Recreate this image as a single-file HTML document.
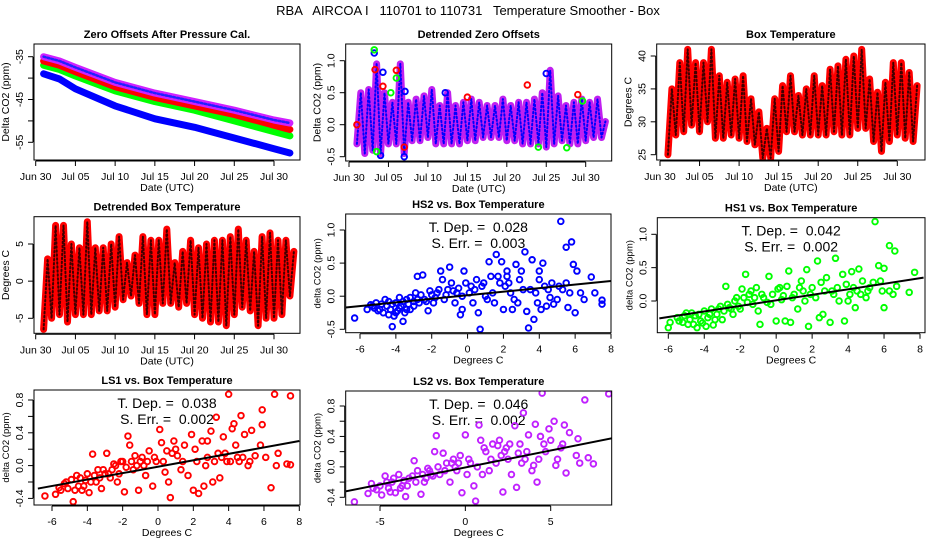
<!DOCTYPE html>
<html><head><meta charset="utf-8"><style>
html,body{margin:0;padding:0;background:#fff;}
svg{display:block;font-family:"Liberation Sans",sans-serif;}
text{white-space:pre;}
</style></head><body>
<svg id="chart" width="936" height="540" viewBox="0 0 936 540">
<rect width="936" height="540" fill="#fff"/>
<text x="468" y="15" text-anchor="middle" font-size="13" xml:space="preserve">RBA   AIRCOA I   110701 to 110731   Temperature Smoother - Box</text>
</svg>
<script>
// ---------- DATA ----------
const days = [1,3,5,10,15,20,25,30,32];
const zoBlue   = [-39,-40.2,-42.5,-46.5,-49.5,-51.5,-54,-56.5,-57.5];
const zoGreen  = [-37,-38,-39.5,-43,-45.5,-47.5,-50,-52.5,-53.5];
const zoRed    = [-36,-37,-38.5,-42,-44.5,-46.5,-48.5,-51,-52];
const zoPurple = [-35,-36,-37.5,-41,-43.5,-45.5,-47.5,-49.8,-50.5];

const dayIdx = [1,2,3,4,5,6,7,8,9,10,11,12,13,14,15,16,17,18,19,20,21,22,23,24,25,26,27,28,29,30,31,32];
const dzMin = [-0.3,-0.45,-0.4,-0.45,-0.3,-0.3,-0.45,-0.25,-0.25,-0.2,-0.3,-0.3,-0.3,-0.3,-0.25,-0.25,-0.2,-0.2,-0.2,-0.25,-0.25,-0.3,-0.3,-0.3,-0.35,-0.3,-0.25,-0.3,-0.3,-0.25,-0.2,-0.2];
const dzMax = [0.5,0.55,0.95,0.5,0.35,0.95,0.35,0.4,0.45,0.55,0.3,0.5,0.3,0.35,0.4,0.35,0.3,0.3,0.4,0.3,0.35,0.35,0.4,0.5,0.85,0.45,0.3,0.35,0.4,0.35,0.4,0.05];
const dzOutDay = [3.2,4.3,7.1,12.2,4,7,25,3.2,6,5.3,24,27.6,29.6,3.5,3.3,6,4.3,22.6,29,15,7,1];
const dzOutVal = [1.12,0.82,0.52,0.5,-0.48,-0.5,0.8,1.17,0.73,0.5,-0.35,-0.36,0.37,-0.42,0.86,0.85,0.6,0.62,0.47,0.43,-0.35,0];
const dzOutCol = ["#0000ff","#0000ff","#0000ff","#0000ff","#0000ff","#0000ff","#0000ff","#00ff00","#00ff00","#00ff00","#00ff00","#00ff00","#00ff00","#00ff00","#ff0000","#ff0000","#ff0000","#ff0000","#ff0000","#ff0000","#ff0000","#ff0000"];
const btMin = [25,28,28.5,29.5,28.5,30,27.5,27.5,28,27.5,27,26.5,24.5,24.5,25.5,28.5,28.5,28,28,28,28,28.5,28,28,29,29,27,25.5,27,28,27.5,27];
const btMax = [35,39,41,39,39,41,37,36,36.5,37,33.5,31.5,29,33.5,35.5,37,34,35,37,35.5,38,38.5,39.5,40,41,36.5,34.5,36,39,39,37.5,35.5];
const dbMin = [-6.5,-5,-4.5,-5.5,-4.5,-4.5,-4.5,-4,-4,-3.5,-2.5,-2,-3,-4.5,-4.5,-3,-3,-3.5,-3,-4.5,-5,-5.5,-5.5,-6,-4.5,-3.5,-4,-6,-5,-5,-4.5,-2];
const dbMax = [3,7.5,7.5,5,4.5,8,4.5,4.5,5,6,2.5,3.5,6,5.5,5.5,7,2.5,4,5.5,4.5,5,5.5,5.5,6,7,5.5,4,6,6.5,5.5,5.5,4];

const hs2Pts = [[-6.3,-0.33],[-5.6,-0.2],[-5.4,-0.13],[-5.2,-0.18],[-5,-0.22],[-4.8,-0.12],[-4.7,-0.25],[-4.5,-0.15],[-4.4,-0.08],[-4.3,-0.2],[-4.2,-0.46],[-4.1,-0.3],[-4,-0.1],[-3.9,-0.22],[-3.8,-0.02],[-3.7,-0.15],[-3.6,-0.38],[-3.5,-0.25],[-3.4,-0.05],[-3.3,-0.12],[-3.2,-0.2],[-3,-0.08],[-2.9,0.05],[-2.8,0.3],[-2.7,-0.1],[-2.5,0.32],[-2.4,-0.05],[-2.2,-0.22],[-2,0.02],[-1.9,-0.1],[-1.7,0.05],[-1.5,0.38],[-1.4,0.25],[-1.3,-0.05],[-1.1,0.1],[-1,0.44],[-0.9,0.2],[-0.7,-0.1],[-0.5,0.12],[-0.4,-0.28],[-0.3,-0.2],[-0.2,0.38],[-0.1,0.2],[0.1,0.05],[0.3,-0.1],[0.5,0.25],[0.6,-0.25],[0.7,-0.5],[0.8,0.15],[1,0.0],[1.2,0.52],[1.3,0.3],[1.5,-0.1],[1.6,0.63],[1.8,0.2],[1.9,0.52],[2,-0.2],[2.2,0.38],[2.4,0.05],[2.5,-0.2],[2.7,0.48],[2.9,0.25],[3,0.38],[3.2,0.67],[3.3,-0.23],[3.4,-0.48],[3.6,0.55],[3.7,-0.35],[3.8,0.05],[4,0.38],[4.2,0.5],[4.4,-0.15],[4.5,0.1],[4.7,0.2],[5,-0.05],[5.2,1.13],[5.3,0.1],[5.5,0.74],[5.6,-0.17],[5.8,0.82],[5.9,0.48],[6.1,0.38],[6,-0.25],[6.3,0.05],[6.5,-0.05],[6.9,0.29],[7.1,0.05],[7.5,-0.12],[7.5,-0.06],[4.8,-0.12],[2.3,0.2],[1.1,-0.05],[0.2,0.15],[-0.6,0.05],[3.5,0.1],[4.1,-0.2],[5.5,0.2],[2.8,-0.1],
 [-5.3,-0.15],[-5.1,-0.1],[-4.9,-0.2],[-4.6,-0.05],[-4.4,-0.28],[-4.2,-0.12],[-4,-0.25],[-3.8,-0.18],[-3.6,-0.08],[-3.4,-0.2],[-3.2,-0.02],[-3,-0.15],[-2.8,-0.05],[-2.6,0.02],[-2.3,-0.08],[-2.1,0.08],[-1.8,-0.02],[-1.6,0.1],[-1.2,0.02],[-0.8,0.08],[-0.3,0.0],[0.4,0.1],[0.9,0.2],[1.4,0.05],[1.7,0.3],[2.1,0.15],[2.6,-0.05],[3.1,0.1],[3.9,-0.1],[4.3,0.15],[4.6,-0.02],[5.1,0.15],[5.7,0.05],[2.2,0.3],[4,0.25]];
const hs1Pts = [[-6,-0.4],[-5.9,-0.32],[-5.5,-0.25],[-5.2,-0.32],[-5,-0.18],[-4.8,-0.28],[-4.6,-0.35],[-4.5,-0.22],[-4.4,-0.4],[-4.2,-0.3],[-4,-0.15],[-3.9,-0.38],[-3.8,-0.25],[-3.6,-0.12],[-3.5,-0.36],[-3.3,-0.2],[-3.1,-0.08],[-3,-0.28],[-2.8,0.22],[-2.6,-0.1],[-2.4,-0.2],[-2.2,0.05],[-2,-0.12],[-1.9,0.18],[-1.7,0.4],[-1.5,0.1],[-1.3,-0.05],[-1.1,0.2],[-1,-0.15],[-0.9,-0.35],[-0.7,0.05],[-0.4,0.37],[-0.2,0.1],[0,-0.3],[0.1,0.18],[0.3,0.02],[0.5,-0.3],[0.6,0.22],[0.7,0.45],[0.8,-0.32],[1,0.1],[1.2,-0.12],[1.4,0.3],[1.6,0.0],[1.7,0.47],[1.8,-0.38],[2,0.2],[2.2,0.05],[2.3,0.6],[2.4,-0.25],[2.6,-0.2],[2.8,0.35],[3,-0.32],[3.1,0.15],[3.3,0.64],[3.5,0.0],[3.7,0.4],[3.8,-0.3],[3.9,0.25],[4.1,0.1],[4.2,0.44],[4.4,-0.1],[4.6,0.48],[4.8,0.3],[5,0.05],[5.2,0.2],[5.5,1.19],[5.7,0.53],[5.9,0.15],[6,0.49],[6,-0.1],[6.3,0.83],[6.3,0.15],[6.6,0.75],[6.7,0.22],[7.4,0.13],[7.7,0.43],[4.5,0.15],[3.2,0.1],[1.5,0.15],[0.4,0.08],[-0.5,-0.02],[5.4,0.28],[2.5,0.28],
 [-5.4,-0.3],[-5.1,-0.22],[-4.9,-0.35],[-4.7,-0.18],[-4.3,-0.2],[-4.1,-0.33],[-3.7,-0.2],[-3.4,-0.28],[-3.2,-0.12],[-2.9,-0.15],[-2.7,-0.05],[-2.5,-0.12],[-2.3,0.0],[-2.1,-0.08],[-1.8,0.05],[-1.6,-0.02],[-1.4,0.15],[-1.2,0.05],[-0.8,0.1],[-0.3,-0.05],[0.2,0.2],[0.9,0.05],[1.3,0.2],[1.9,0.1],[2.7,0.15],[3.4,0.2],[4,0.0],[4.3,0.2],[4.7,0.1],[5.1,0.15],[5.8,0.3],[6.5,0.1]];
const ls1Pts = [[-6.4,-0.37],[-5.8,-0.35],[-5.6,-0.27],[-5.5,-0.3],[-5.3,-0.22],[-5.1,-0.28],[-4.9,-0.17],[-4.8,-0.44],[-4.6,-0.12],[-4.5,-0.25],[-4.3,-0.3],[-4.1,-0.18],[-4,-0.1],[-3.9,-0.33],[-3.7,0.14],[-3.5,-0.2],[-3.4,-0.05],[-3.2,-0.28],[-3,-0.1],[-2.9,0.15],[-2.7,-0.15],[-2.5,0.02],[-2.3,-0.2],[-2.1,0.05],[-1.9,-0.32],[-1.7,0.36],[-1.6,0.25],[-1.4,-0.05],[-1.3,0.12],[-1.1,-0.3],[-0.9,0.1],[-0.7,-0.12],[-0.5,0.18],[-0.3,-0.25],[-0.1,0.05],[0.1,0.44],[0.2,0.28],[0.4,-0.08],[0.5,0.18],[0.6,-0.2],[0.7,-0.39],[0.9,0.3],[1.1,0.12],[1.3,-0.05],[1.5,0.25],[1.7,-0.12],[1.9,0.38],[2,-0.3],[2.2,0.05],[2.3,-0.34],[2.5,0.3],[2.6,-0.25],[2.8,0.1],[3,0.42],[3.1,-0.2],[3.3,0.59],[3.4,0.15],[3.5,-0.15],[3.7,0.35],[3.9,0.05],[4,0.87],[4.2,0.45],[4.3,0.51],[4.5,0.1],[4.7,0.61],[4.9,0.38],[5.1,0.0],[5.3,0.43],[5.5,0.12],[5.8,0.25],[5.9,0.68],[5.9,0.5],[6.1,0.1],[6.4,-0.27],[6.6,0.87],[6.7,0.0],[6.8,0.15],[7.3,0.02],[7.5,0.85],[7.5,0.01],[1,0.2],[2.8,0.3],[-0.8,0.0],[4.6,0.05],[3.6,0.1],
 [-5.2,-0.2],[-4.7,-0.3],[-4.4,-0.15],[-4.2,-0.25],[-3.8,-0.2],[-3.6,-0.12],[-3.3,-0.15],[-3.1,-0.05],[-2.8,-0.1],[-2.6,-0.05],[-2.4,0.0],[-2.2,-0.1],[-2,0.05],[-1.8,-0.02],[-1.5,0.05],[-1.2,0.0],[-1,0.05],[-0.6,0.05],[-0.2,0.1],[0.3,0.05],[0.8,0.15],[1.4,0.05],[2.1,0.2],[2.7,0.0],[3.2,0.05],[3.8,0.15],[4.1,0.05],[4.4,0.25],[4.8,0.1],[5.2,0.05]];
const ls2Pts = [[-6.5,-0.46],[-5.7,-0.35],[-5.5,-0.22],[-5.2,-0.3],[-4.9,-0.37],[-4.7,-0.12],[-4.5,-0.28],[-4.3,-0.2],[-4.1,-0.34],[-3.9,-0.1],[-3.7,-0.25],[-3.5,-0.39],[-3.3,-0.15],[-3,0.08],[-2.8,-0.05],[-2.6,-0.36],[-2.4,-0.2],[-2.2,-0.02],[-2,-0.1],[-1.8,0.2],[-1.7,0.41],[-1.5,-0.1],[-1.3,0.18],[-1.1,0.05],[-0.9,-0.2],[-0.7,0.1],[-0.5,-0.05],[-0.3,0.15],[-0.2,-0.34],[0,0.42],[0.1,-0.1],[0.3,0.05],[0.5,-0.25],[0.6,-0.45],[0.8,0.55],[0.9,0.35],[1,-0.1],[1.2,0.2],[1.4,-0.05],[1.6,0.3],[1.8,0.05],[2,0.35],[2.2,-0.33],[2.3,0.2],[2.5,0.1],[2.7,-0.1],[2.9,0.54],[3,-0.27],[3.2,0.3],[3.4,0.71],[3.5,0.1],[3.7,0.42],[3.9,-0.05],[4.1,0.56],[4.2,-0.2],[4.4,0.4],[4.5,0.97],[4.7,0.2],[4.9,0.5],[5,0.35],[5.2,0.6],[5.4,0.1],[5.6,0.25],[5.8,0.55],[5.9,-0.08],[6.1,0.45],[6.5,0.15],[6.6,0.37],[6.7,0.05],[7,0.88],[7.2,0.12],[7.5,0.04],[8.4,0.96],[1.5,0.1],[3.1,0.18],[-0.4,0.05],[4.3,0.1],[2.4,0.25],
 [-5.4,-0.28],[-5,-0.25],[-4.6,-0.2],[-4.4,-0.33],[-4.2,-0.15],[-3.8,-0.28],[-3.6,-0.18],[-3.4,-0.25],[-3.1,-0.12],[-2.9,-0.2],[-2.5,-0.1],[-2.3,-0.15],[-2.1,-0.05],[-1.9,-0.12],[-1.6,0.0],[-1.2,-0.05],[-0.8,0.05],[-0.6,0.0],[0.2,0.1],[0.7,0.0],[1.1,0.25],[1.9,0.28],[2.1,0.15],[2.6,0.3],[3.3,0.05],[3.6,0.2],[4,0.02],[4.6,0.3],[5.3,0.02],[5.7,0.3]];
const hs2Fit = [-6.8,-0.17,8,0.23];
const hs1Fit = [-6.5,-0.26,8.2,0.35];
const ls1Fit = [-6.8,-0.28,8,0.30];
const ls2Fit = [-7.2,-0.33,8.9,0.39];
const dateTicks = [0,5,10,15,20,25,30];
const dateLabels = ["Jun 30","Jul 05","Jul 10","Jul 15","Jul 20","Jul 25","Jul 30"];

// ---------- DRAWING ----------
const NS = "http://www.w3.org/2000/svg";
const svg = document.getElementById("chart");
function mk(tag, parent){ const e=document.createElementNS(NS,tag); (parent||svg).appendChild(e); return e; }
function lin(v0,p0,v1,p1){ return v => p0 + (v-v0)*(p1-p0)/(v1-v0); }

function panel(c){
  const g = mk("g");
  
  
  const [l,t,r,b] = c.box;
  const ti=mk("text",g); ti.setAttribute("x",(l+r)/2); ti.setAttribute("y",t-6); ti.setAttribute("text-anchor","middle"); ti.setAttribute("font-size","11"); ti.setAttribute("font-weight","bold");
  ti.textContent=c.title;
  
  
  if(c.ann){
    c.ann.forEach((s,i)=>{
      const a=mk("text",g); a.setAttribute("x",(l+r)/2); a.setAttribute("y",t+18+i*16); a.setAttribute("text-anchor","middle"); a.setAttribute("font-size","14");
      a.textContent=s;
      
      
    });
  }
  const clip = mk("clipPath", g); clip.setAttribute("id","clip-"+c.name);
  const cr = mk("rect", clip); cr.setAttribute("x",l); cr.setAttribute("y",t); cr.setAttribute("width",r-l); cr.setAttribute("height",b-t);
  const plot = mk("g", g); plot.setAttribute("clip-path","url(#clip-"+c.name+")");
  
  
  c.draw(plot);
  const box = mk("rect", g);
  box.setAttribute("x",l); box.setAttribute("y",t); box.setAttribute("width",r-l); box.setAttribute("height",b-t);
  box.setAttribute("fill","none"); box.setAttribute("stroke","#000"); box.setAttribute("stroke-width","1");
  
  
  const xa = mk("g", g);
  
  
  const xt = c.xticks.map(c.xs);
  const al = mk("line", xa); al.setAttribute("x1",xt[0]); al.setAttribute("x2",xt[xt.length-1]); al.setAttribute("y1",b+1); al.setAttribute("y2",b+1); al.setAttribute("stroke","#000");
  c.xticks.forEach((v,i)=>{
    const x=c.xs(v);
    const tk=mk("line",xa); tk.setAttribute("x1",x); tk.setAttribute("x2",x); tk.setAttribute("y1",b+1); tk.setAttribute("y2",b+6); tk.setAttribute("stroke","#000");
    const tx=mk("text",xa); tx.setAttribute("x",x); tx.setAttribute("y",b+20); tx.setAttribute("text-anchor","middle"); tx.setAttribute("font-size","10.5");
    tx.textContent=c.xlabels[i];
    
    
  });
  const xtl=mk("text",g); xtl.setAttribute("x",(l+r)/2); xtl.setAttribute("y",b+31); xtl.setAttribute("text-anchor","middle"); xtl.setAttribute("font-size","10.5");
  xtl.textContent=c.xtitle;
  
  
  const ya = mk("g", g);
  
  
  const yt = c.yticks.map(c.ys);
  const yl = mk("line", ya); yl.setAttribute("x1",l-1); yl.setAttribute("x2",l-1); yl.setAttribute("y1",yt[0]); yl.setAttribute("y2",yt[yt.length-1]); yl.setAttribute("stroke","#000");
  c.yticks.forEach((v,i)=>{
    const y=c.ys(v);
    const tk=mk("line",ya); tk.setAttribute("x1",l-1); tk.setAttribute("x2",l-6); tk.setAttribute("y1",y); tk.setAttribute("y2",y); tk.setAttribute("stroke","#000");
    if(c.ylabels[i]!==""){
      const tx=mk("text",ya); const lx=l-11;
      tx.setAttribute("x",lx); tx.setAttribute("y",y); tx.setAttribute("text-anchor","middle"); tx.setAttribute("font-size","10.5");
      tx.setAttribute("transform","rotate(-90 "+lx+" "+y+")");
      tx.textContent=c.ylabels[i];
      
      
    }
  });
  const ytl=mk("text",g); const yx=l-25, yy=(t+b)/2;
  ytl.setAttribute("x",yx); ytl.setAttribute("y",yy); ytl.setAttribute("text-anchor","middle"); ytl.setAttribute("font-size",c.ytfs||"10.5");
  ytl.setAttribute("transform","rotate(-90 "+yx+" "+yy+")");
  ytl.textContent=c.ytitle;
  
  
}

function thickLine(p, xs, ys, xv, yv, col, w, name){
  const pts = xv.map((x,i)=>xs(x).toFixed(1)+","+ys(yv[i]).toFixed(1)).join(" ");
  const pl = mk("polyline", p); pl.setAttribute("points",pts); pl.setAttribute("fill","none"); pl.setAttribute("stroke",col); pl.setAttribute("stroke-width",w); pl.setAttribute("stroke-linejoin","round"); pl.setAttribute("stroke-linecap","round");
  
  
  return pl;
}
function zigzag(p, xs, ys, dmin, dmax, col, col2, name){
  const xv=[], yv=[];
  dayIdx.forEach((d,i)=>{ xv.push(d); yv.push(dmin[i]); xv.push(d+0.5); yv.push(dmax[i]); });
  thickLine(p, xs, ys, xv, yv, col, 7, name);
  const o = thickLine(p, xs, ys, xv, yv, col2, 2, name+'-overlay');
  o.setAttribute("stroke-dasharray","1.5 2.5");
}
function scatter(p, xs, ys, pts, col, fit, name){
  pts.forEach(pt=>{
    const c=mk("circle",p); c.setAttribute("cx",xs(pt[0])); c.setAttribute("cy",ys(pt[1])); c.setAttribute("r","2.8");
    c.setAttribute("fill","none"); c.setAttribute("stroke",col); c.setAttribute("stroke-width","1.9");
    
    
  });
  const ln=mk("line",p); ln.setAttribute("x1",xs(fit[0])); ln.setAttribute("y1",ys(fit[1])); ln.setAttribute("x2",xs(fit[2])); ln.setAttribute("y2",ys(fit[3]));
  ln.setAttribute("stroke","#000"); ln.setAttribute("stroke-width","2");
  
  
}

{ const xs=lin(0,35.7,30,274), ys=lin(-35,56.7,-55,142.3);
  panel({name:"zero-offsets-panel", box:[34,44,300,160], xs, ys, xticks:dateTicks, xlabels:dateLabels,
    yticks:[-35,-40,-45,-50,-55], ylabels:["-35","","-45","","-55"], title:"Zero Offsets After Pressure Cal.", xtitle:"Date (UTC)", ytitle:"Delta CO2 (ppm)",
    draw:p=>{ thickLine(p,xs,ys,days,zoBlue,"#0000ff",7,"series-hs2"); thickLine(p,xs,ys,days,zoGreen,"#00ff00",7,"series-hs1");
      thickLine(p,xs,ys,days,zoRed,"#ff0000",7,"series-ls1"); thickLine(p,xs,ys,days,zoPurple,"#d020ff",7,"series-ls2");
      const o=thickLine(p,xs,ys,days,zoPurple,"#2020ff",2.5,"series-ls2-overlay"); o.setAttribute("stroke-dasharray","2 2"); }});
}
{ const xs=lin(0,349,30,585.7), ys=lin(1,60.7,-0.5,156.7);
  panel({name:"detrended-zero-offsets-panel", box:[345.7,44,611.7,161], xs, ys, xticks:dateTicks, xlabels:dateLabels,
    yticks:[-0.5,0,0.5,1.0], ylabels:["-0.5","0.0","0.5","1.0"], title:"Detrended Zero Offsets", xtitle:"Date (UTC)", ytitle:"Delta CO2 (ppm)",
    draw:p=>{ zigzag(p,xs,ys,dzMin,dzMax,"#c020f0","#0000ff","detrended-band");
      dzOutDay.forEach((d,i)=>{ const c=mk("circle",p); c.setAttribute("cx",xs(d)); c.setAttribute("cy",ys(dzOutVal[i])); c.setAttribute("r","2.8"); c.setAttribute("fill","none"); c.setAttribute("stroke",dzOutCol[i]); c.setAttribute("stroke-width","1.9");
        
         }); }});
}
{ const xs=lin(0,660,30,897.3), ys=lin(40,56,25,154.7);
  panel({name:"box-temperature-panel", box:[656.7,44,925,160], xs, ys, xticks:dateTicks, xlabels:dateLabels,
    yticks:[25,30,35,40], ylabels:["25","30","35","40"], title:"Box Temperature", xtitle:"Date (UTC)", ytitle:"Degrees C",
    draw:p=>zigzag(p,xs,ys,btMin,btMax,"#ff0000","#400000","box-temp-series")});
}
{ const xs=lin(0,35.7,30,274), ys=lin(5,244,-5,318.3);
  panel({name:"detrended-box-temperature-panel", box:[34,216.7,300,333.3], xs, ys, xticks:dateTicks, xlabels:dateLabels,
    yticks:[-5,0,5], ylabels:["-5","0","5"], title:"Detrended Box Temperature", xtitle:"Date (UTC)", ytitle:"Degrees C",
    draw:p=>zigzag(p,xs,ys,dbMin,dbMax,"#ff0000","#400000","detrended-temp-series")});
}
{ const xs=lin(-6,360,8,611), ys=lin(1,230,-0.5,329.3);
  panel({name:"hs2-scatter-panel", box:[345.7,214,611,332.7], xs, ys, xticks:[-6,-4,-2,0,2,4,6,8], xlabels:["-6","-4","-2","0","2","4","6","8"],
    yticks:[-0.5,0,0.5,1.0], ylabels:["-0.5","0.0","0.5","1.0"], title:"HS2 vs. Box Temperature", xtitle:"Degrees C", ytitle:"delta CO2 (ppm)", ytfs:"9.5",
    ann:["T. Dep. =  0.028","S. Err. =  0.003"],
    draw:p=>scatter(p,xs,ys,hs2Pts,"#0000ff",hs2Fit,"hs2")});
}
{ const xs=lin(-6,668.3,8,920), ys=lin(1,234.3,0,301);
  panel({name:"hs1-scatter-panel", box:[657.3,217.7,925,332.7], xs, ys, xticks:[-6,-4,-2,0,2,4,6,8], xlabels:["-6","-4","-2","0","2","4","6","8"],
    yticks:[0,0.5,1.0], ylabels:["0.0","0.5","1.0"], title:"HS1 vs. Box Temperature", xtitle:"Degrees C", ytitle:"delta CO2 (ppm)", ytfs:"9.5",
    ann:["T. Dep. =  0.042","S. Err. =  0.002"],
    draw:p=>scatter(p,xs,ys,hs1Pts,"#00ff00",hs1Fit,"hs1")});
}
{ const xs=lin(-6,52,8,299.3), ys=lin(0.8,400,-0.4,498.4);
  panel({name:"ls1-scatter-panel", box:[34,390,300,505], xs, ys, xticks:[-6,-4,-2,0,2,4,6,8], xlabels:["-6","-4","-2","0","2","4","6","8"],
    yticks:[-0.4,-0.2,0,0.2,0.4,0.6,0.8], ylabels:["-0.4","","0.0","","0.4","","0.8"], title:"LS1 vs. Box Temperature", xtitle:"Degrees C", ytitle:"delta CO2 (ppm)", ytfs:"9.5",
    ann:["T. Dep. =  0.038","S. Err. =  0.002"],
    draw:p=>scatter(p,xs,ys,ls1Pts,"#ff0000",ls1Fit,"ls1")});
}
{ const xs=lin(-5,380,5,550.7), ys=lin(0.8,406,-0.4,497.3);
  panel({name:"ls2-scatter-panel", box:[345.7,391,611.7,505], xs, ys, xticks:[-5,0,5], xlabels:["-5","0","5"],
    yticks:[-0.4,-0.2,0,0.2,0.4,0.6,0.8], ylabels:["-0.4","","0.0","","0.4","","0.8"], title:"LS2 vs. Box Temperature", xtitle:"Degrees C", ytitle:"delta CO2 (ppm)", ytfs:"9.5",
    ann:["T. Dep. =  0.046","S. Err. =  0.002"],
    draw:p=>scatter(p,xs,ys,ls2Pts,"#c020ff",ls2Fit,"ls2")});
}
</script>
</body></html>
